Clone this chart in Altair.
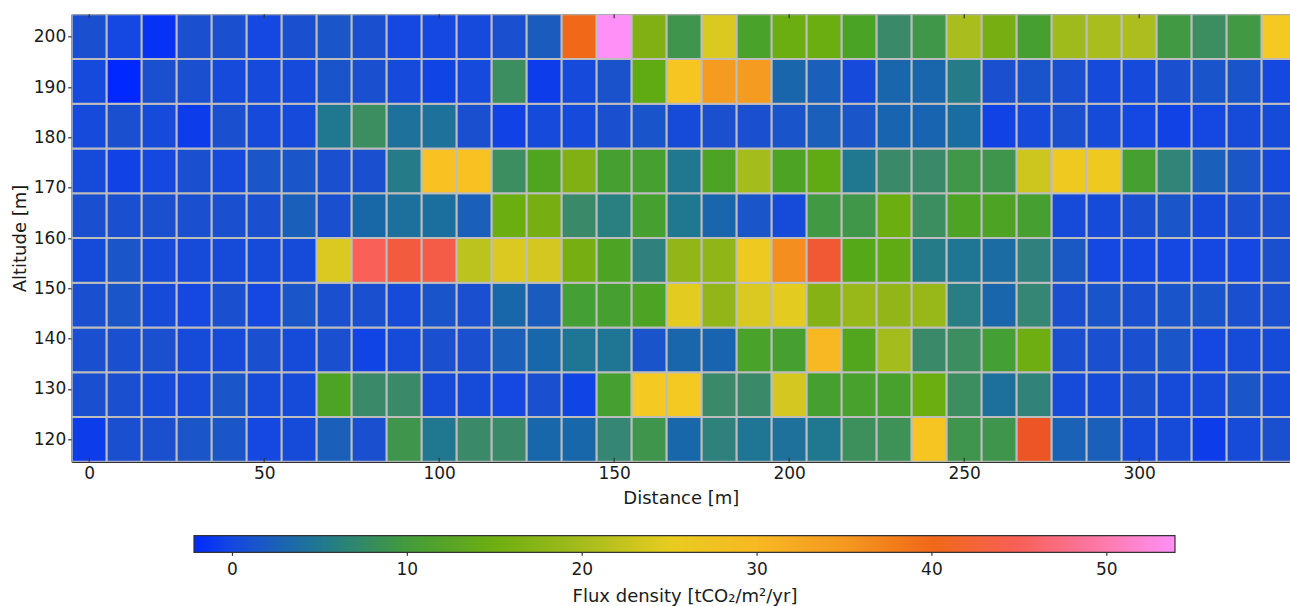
import altair as alt
import pandas as pd

# ---- categories ----
distance = [0, 10, 20, 30, 40, 50, 60, 70, 80, 90, 100, 110, 120, 130, 140, 150, 160,
            170, 180, 190, 200, 210, 220, 230, 240, 250, 260, 270, 280, 290, 300, 310,
            320, 330, 340]
altitude = [120.0, 128.89, 137.78, 146.67, 155.56, 164.44, 173.33, 182.22, 191.11, 200.0]

# ---- flux density per altitude row (columns follow `distance`) ----
flux_120 = [-0.8, 1, 1, 1.5, 1.5, 0, 0.4, 2.2, 1, 9, 5, 7.5, 7.5, 3.2, 3.2, 7, 9, 3.2, 6.3,
            4.7, 4.3, 5, 8.3, 8.5, 28, 9, 9, 42, 2.5, 2.2, 0.4, 0.4, -0.8, 0.4, 1]
flux_129 = [1, 1, 0.4, 0.4, 1.5, 0.4, 0.4, 11.5, 7.5, 7.5, 0.4, 0.4, 0, 1, -0.3, 10.5, 27,
            27, 7.5, 7.5, 23, 10.5, 10.8, 10.8, 14.5, 8, 4.2, 6.5, 0.4, 0.4, 1, 0.4, 0.4,
            1.5, 0.4]
flux_138 = [1, 1, 1, 0.4, 0.4, 1, 0.4, 1, -0.3, 0.4, 1, 1, 2.2, 3.2, 4.7, 4.7, 1.3, 3, 2.8,
            11, 10.5, 30, 12, 20, 7.5, 8, 10.3, 15, 1, 1, 1, 1.5, 0, 0.4, 0.4]
flux_147 = [1, 1.5, 0.4, 0, 1, 0, 1.5, 1, 1, 0.4, 1.3, 1, 3.2, 2, 10.3, 10.5, 11.5, 24.5,
            18.5, 23.5, 24.5, 17.5, 19, 18.5, 19, 5.8, 3, 7, 1, 1.3, 1, 1.3, 1.3, 1, 1]
flux_156 = [0.4, 1.5, 0.4, 0.4, 0.4, 0.4, 0.4, 23.5, 45, 43.5, 44, 21.5, 23.5, 23, 16,
            11.5, 6.3, 18.5, 18.3, 26, 36, 43, 12.5, 13.5, 5.5, 4.7, 3.7, 6.3, 1.7, 0, 0,
            0, 0, 0, 1]
flux_164 = [1, 1, 1, 1, 1, 1, 2.2, 1, 3.3, 4.2, 4, 2.2, 14.5, 16, 7.5, 6, 10.5, 5, 3, 1.5,
            0.4, 9.5, 9.2, 14.5, 8, 11.5, 11.5, 10.5, 0.4, 0.4, 1, 1.5, 0.4, 1, 1]
flux_173 = [0.4, -0.4, 0, 1, 0.2, 1.5, 1.5, 1, 1, 5.5, 28.5, 28.5, 8, 11.8, 17, 10.5, 10.5,
            5, 11.5, 20, 11.5, 13.5, 5, 7.5, 7.5, 9.2, 9, 22.5, 26, 26, 10.5, 6.6, 2.2,
            1.5, 0.2]
flux_182 = [0.3, 1, 0.3, -0.8, 1, 0.3, 0.3, 5, 8, 4.3, 4.3, 1, -0.4, 0.3, 0.3, 1, 1.3, 0.4,
            1, 1, 1.3, 2.2, 1.5, 2.8, 2.8, 3.8, -0.4, 0.3, 1, 0.4, 0, -0.4, 0, 0.4, 0.4]
flux_191 = [0.2, -2.2, 1, 1, 0.3, 0.3, 0.3, 1.3, 1, 0.3, -0.3, 0.2, 8, -0.8, 0.3, 1.2, 13.5,
            28, 34.5, 34.5, 3, 2.2, 0.3, 3, 3, 5.5, 1, 1.3, 1, 0.3, 0.3, 1, 1.3, 1.3, 0]
flux_200 = [1, 0, -1.5, 1, 1, 0, 1, 1.5, 1, 0, 0, 0.2, 1, 2, 40, 53.9, 17, 9, 23.5, 11,
            14.5, 14.5, 11.3, 7.5, 9.2, 20.3, 16, 10.5, 19.5, 20.3, 20.5, 9.5, 8, 9.5, 27]

rows = [flux_120, flux_129, flux_138, flux_147, flux_156, flux_164, flux_173, flux_182,
        flux_191, flux_200]

# ---- tick labels ----
x_ticks = [0, 50, 100, 150, 200, 250, 300]
y_ticks = [120, 130, 140, 150, 160, 170, 180, 190, 200]
cbar_ticks = [0, 10, 20, 30, 40, 50]

# ---- colour map stops ----
color_domain = [-2.2, 0, 1, 2.3, 3.3, 5, 7.5, 10.5, 12.5, 14.5, 17, 20, 23, 25, 27.5, 30,
                35, 40, 42, 45, 48, 51, 53.9]
color_range = ["#0028ff", "#1448e0", "#1a50d0", "#1a60b8", "#1868a8", "#207890", "#3a8a6a",
               "#45a030", "#55a818", "#6aae10", "#80b014", "#a4bc1c", "#d4c820", "#e8cc20",
               "#f6c822", "#f8b822", "#f59820", "#f06818", "#ee5524", "#f86058", "#ff7090",
               "#ff80c0", "#ff90f8"]

records = []
for a, row in zip(altitude, rows):
    for d, v in zip(distance, row):
        records.append({"distance": d, "altitude": a, "flux": v})
df = pd.DataFrame(records)
ticks_df = pd.DataFrame({"tick": x_ticks})
cbar_df = pd.DataFrame({"tick": cbar_ticks})

W = 1218.3
H = 447.4
FONT = "DejaVu Sans"
TXT = "#1a1a1a"
LABEL_SIZE = 17
TITLE_SIZE = 18

# colourbar geometry (relative to plot origin)
CB_X0 = 122.3
CB_LEN = 981
CB_Y = 521.4
CB_THICK = 16.6

x_scale = alt.Scale(domain=[-5, 343.1], nice=False, zero=False)
y_scale = alt.Scale(domain=[115.556, 204.444], nice=False, zero=False)

heat = (
    alt.Chart(df)
    .transform_calculate(
        x0="datum.distance - 5",
        x1="datum.distance + 5",
        y0="datum.altitude - 40/9",
        y1="datum.altitude + 40/9",
    )
    .mark_rect(stroke="#bdbdbd", strokeWidth=2, clip=True)
    .encode(
        x=alt.X("x0:Q", scale=x_scale,
                axis=alt.Axis(orient="bottom", values=x_ticks, title="Distance [m]",
                              ticks=False, labelPadding=4, titlePadding=8)),
        x2="x1:Q",
        y=alt.Y("y0:Q", scale=y_scale,
                axis=alt.Axis(values=y_ticks, title="Altitude [m]", tickSize=4,
                              labelPadding=2, titlePadding=4)),
        y2="y1:Q",
        color=alt.Color(
            "flux:Q",
            scale=alt.Scale(domain=color_domain, range=color_range, interpolate="rgb",
                            nice=False, zero=False),
            legend=alt.Legend(
                orient="none", direction="horizontal", legendX=CB_X0, legendY=CB_Y,
                gradientLength=CB_LEN, gradientThickness=CB_THICK,
                gradientStrokeColor="#333", gradientStrokeWidth=1.2, values=cbar_ticks,
                title="Flux density [tCO₂/m²/yr]", titleOrient="bottom",
                titleAnchor="middle", titleFontSize=TITLE_SIZE, titleFont=FONT,
                titleFontWeight="normal", titleColor=TXT, titlePadding=9,
                titleLimit=1000,
                labelFontSize=LABEL_SIZE, labelFont=FONT, labelColor=TXT, labelOffset=10,
                labelOverlap=False, padding=0,
            ),
        ),
    )
)

top_ticks = (
    alt.Chart(ticks_df)
    .mark_rule(color="#333", strokeWidth=1.2)
    .encode(
        x=alt.X("tick:Q", scale=x_scale,
                axis=alt.Axis(orient="top", labels=False, ticks=False, title=None)),
        y=alt.value(0),
        y2=alt.value(4),
    )
)
bottom_ticks = (
    alt.Chart(ticks_df)
    .mark_rule(color="#333", strokeWidth=1.2)
    .encode(
        x=alt.X("tick:Q", scale=x_scale, axis=None),
        y=alt.value(H - 4),
        y2=alt.value(H),
    )
)
# small tick marks under the colour bar, placed by a scale matching the bar
cbar_tick_marks = (
    alt.Chart(cbar_df)
    .mark_rule(color="#333", strokeWidth=1.2)
    .encode(
        x=alt.X("tick:Q",
                scale=alt.Scale(domain=[-2.2, 53.9], range=[CB_X0, CB_X0 + CB_LEN],
                                nice=False, zero=False),
                axis=None),
        y=alt.value(CB_Y + CB_THICK),
        y2=alt.value(CB_Y + CB_THICK + 3.5),
    )
)

chart = (
    alt.layer(heat, top_ticks, bottom_ticks, cbar_tick_marks)
    .resolve_scale(x="independent")
    .resolve_axis(x="independent")
    .properties(
        width=W, height=H,
        autosize=alt.AutoSizeParams(type="none"),
        padding={"left": 71.7, "top": 14.3, "right": 0, "bottom": 606 - 14.3 - H},
    )
    .configure_view(stroke=None)
    .configure_axis(
        labelFont=FONT, titleFont=FONT, labelFontSize=LABEL_SIZE, titleFontSize=TITLE_SIZE,
        labelColor=TXT, titleColor=TXT, titleFontWeight="normal",
        domainColor="#333", domainWidth=1.5, tickColor="#333", tickWidth=1.2, grid=False,
    )
)

chart.save("out.html", embed_options={"renderer": "svg", "actions": False})
